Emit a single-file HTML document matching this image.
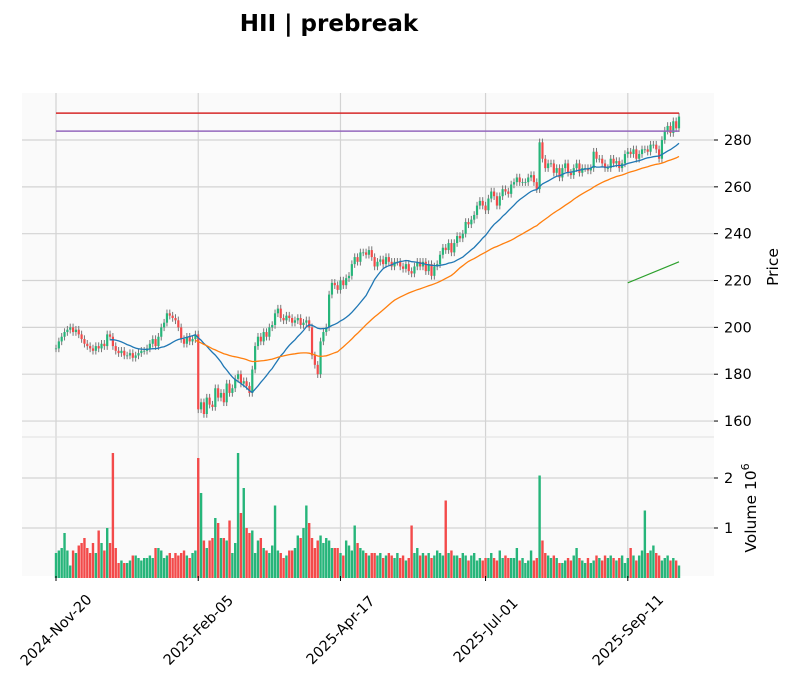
<!DOCTYPE html>
<html><head><meta charset="utf-8"><style>
body{margin:0;background:#fff;font-family:"Liberation Sans",sans-serif}
svg text{font-family:"DejaVu Sans","Liberation Sans",sans-serif}
</style></head><body>
<svg id="chart" width="793" height="688" xmlns="http://www.w3.org/2000/svg">
<text x="329" y="31" text-anchor="middle" font-size="23" font-weight="bold" fill="#000">HII | prebreak</text>
<rect x="22" y="93" width="692" height="344" fill="#fafafa"/>
<rect x="22" y="437" width="692" height="139" fill="#fafafa"/>
<g id="grid"></g><g id="marks"></g><g id="axes"></g>
</svg>
<script>
const closes=[191,194,196,198,199,200,198,199,197,195,
193,192,191,190,192,191,193,192,197,196,
192,190,189,190,188,188,189,187,188,189,
190,190,191,193,195,192,196,200,202,206,
205,204,203,200,195,193,196,194,195,197,
165,168,163,170,167,166,174,170,172,168,
176,172,174,178,180,176,177,175,172,182,
192,196,194,198,196,200,201,206,208,204,
203,205,204,202,203,204,201,202,203,200,
188,184,180,194,198,200,214,219,218,216,
220,218,221,222,227,230,228,232,232,231,
233,230,226,228,229,227,230,228,226,228,
228,226,225,227,224,223,226,228,226,228,
224,227,222,226,227,231,234,233,236,232,
236,239,238,240,245,244,246,248,252,254,
252,250,255,258,256,252,256,259,258,257,
261,262,264,262,262,262,264,265,262,259,
279,272,268,270,270,266,268,264,268,270,
266,265,268,270,266,268,268,267,268,275,
272,272,270,268,268,272,270,271,268,270,
274,275,274,276,272,274,276,276,275,278,
278,276,272,280,284,286,283,288,285,290];
const volumes=[.5,.55,.6,.9,.55,.25,.55,.5,.65,.7,
.8,.6,.5,.7,.5,.95,.7,.55,1.0,.7,
2.5,.6,.3,.35,.3,.3,.35,.45,.45,.4,
.35,.4,.4,.45,.4,.6,.6,.55,.4,.45,
.5,.4,.5,.45,.5,.55,.45,.4,.5,.55,
2.4,1.7,.75,.6,.75,.8,1.2,1.1,.8,.8,
.75,1.15,.5,.7,2.5,1.3,1.8,1.0,.9,.95,
.5,.75,.8,.6,.55,.5,.65,1.45,.55,.5,
.4,.45,.55,.55,.6,.85,.8,1.0,1.45,1.1,
.8,.6,.75,.85,.7,.8,.75,.6,.6,.6,
.5,.45,.75,.65,.55,1.05,.7,.6,.55,.5,
.45,.5,.5,.45,.5,.4,.45,.5,.45,.4,
.5,.4,.45,.35,.4,1.05,.5,.6,.45,.5,
.45,.5,.4,.45,.55,.5,.45,1.55,.5,.55,
.45,.45,.4,.5,.45,.35,.45,.5,.35,.4,
.35,.4,.4,.5,.4,.35,.55,.4,.45,.4,
.4,.4,.6,.35,.4,.3,.35,.55,.35,.4,
2.05,.75,.5,.45,.4,.45,.4,.3,.3,.35,
.4,.35,.45,.6,.4,.35,.3,.4,.3,.35,
.45,.4,.35,.45,.4,.45,.4,.35,.4,.45,
.3,.4,.6,.45,.35,.45,.55,1.35,.5,.55,
.65,.5,.45,.35,.4,.45,.35,.4,.35,.25];
const priceTicks=[160,180,200,220,240,260,280];
const volTicks=[1,2];
const dateLabels=["2024-Nov-20","2025-Feb-05","2025-Apr-17","2025-Jul-01","2025-Sep-11"];
const dateIdx=[0,50,100,151,201];
const hlines=[291.5,283.8];
const trendStart=[201,219];
const trendEnd=[219,228];
const wick=1.6;

const NS="http://www.w3.org/2000/svg";
const X=i=>56+i*(623/219);
const Y=p=>140+(280-p)*2.342;
const VY=v=>578-v*50;
function mk(parent,tag,attrs){const e=document.createElementNS(NS,tag);for(const k in attrs)e.setAttribute(k,attrs[k]);document.getElementById(parent).appendChild(e);return e;}
priceTicks.forEach(t=>{const e=mk('grid','line',{x1:22,x2:714,y1:Y(t),y2:Y(t),stroke:'#d3d3d3','stroke-width':1.2});

});
volTicks.forEach(t=>{const e=mk('grid','line',{x1:22,x2:714,y1:VY(t),y2:VY(t),stroke:'#d3d3d3','stroke-width':1.2});

});
dateIdx.forEach(i=>{const e=mk('grid','line',{x1:X(i),x2:X(i),y1:93,y2:576,stroke:'#d3d3d3','stroke-width':1.2});

});
mk('grid','line',{x1:22,x2:714,y1:437,y2:437,stroke:'#e0e0e0'});
const UP='#26b57a',DN='#f34a4a';
closes.forEach((c,i)=>{const o=i?closes[i-1]:c;const up=c>=o;const col=up?UP:DN;const x=X(i);
const w=mk('marks','line',{x1:x,x2:x,y1:Y(Math.max(o,c)+wick),y2:Y(Math.min(o,c)-wick),stroke:'#777','stroke-width':1});


const b=mk('marks','rect',{x:x-1.1,y:Y(Math.max(o,c)),width:2.2,height:Math.max(0.8,Math.abs(Y(o)-Y(c))),fill:col});


const v=mk('marks','rect',{x:x-1.2,y:VY(volumes[i]),width:2.4,height:578-VY(volumes[i]),fill:col});

});
function ma(n,color,name){let pts=[];for(let i=n-1;i<closes.length;i++){let s=0;for(let k=i-n+1;k<=i;k++)s+=closes[k];pts.push(X(i).toFixed(1)+','+Y(s/n).toFixed(1));}
const e=mk('marks','polyline',{points:pts.join(' '),fill:'none',stroke:color,'stroke-width':1.3});

}
ma(20,'#1f77b4','ma20-line');ma(50,'#ff7f0e','ma50-line');
const hc=['#d62728','#9467bd'];
hlines.forEach((h,k)=>{const e=mk('marks','line',{x1:X(0),x2:X(219),y1:Y(h),y2:Y(h),stroke:hc[k],'stroke-width':1.5});

});
const tl=mk('marks','line',{x1:X(trendStart[0]),y1:Y(trendEnd[0]),x2:X(trendStart[1]),y2:Y(trendEnd[1]),stroke:'#2ca02c','stroke-width':1.2});


priceTicks.forEach(t=>{mk('axes','line',{x1:714,x2:718,y1:Y(t),y2:Y(t),stroke:'#000'});const e=mk('axes','text',{x:724,y:Y(t)+5,'font-size':14.5,fill:'#000'});e.textContent=t;

});
volTicks.forEach(t=>{mk('axes','line',{x1:714,x2:718,y1:VY(t),y2:VY(t),stroke:'#000'});const e=mk('axes','text',{x:724,y:VY(t)+5,'font-size':14.5,fill:'#000'});e.textContent=t;

});
dateIdx.forEach((i,k)=>{mk('axes','line',{x1:X(i),x2:X(i),y1:576,y2:581,stroke:'#000'});const cx=X(i),cy=630;const e=mk('axes','text',{x:cx,y:cy+5,'font-size':14.5,fill:'#000','text-anchor':'middle',transform:`rotate(-45 ${cx} ${cy})`});e.textContent=dateLabels[k];

});
const pl=mk('axes','text',{x:778,y:267,'font-size':15.5,fill:'#000','text-anchor':'middle',transform:'rotate(-90 778 267)'});pl.textContent='Price';


const vl=mk('axes','text',{x:756,y:508,'font-size':15.5,fill:'#000','text-anchor':'middle',transform:'rotate(-90 756 508)'});vl.innerHTML='Volume  10<tspan dy="-7" font-size="11">6</tspan>';


</script>
</body></html>
